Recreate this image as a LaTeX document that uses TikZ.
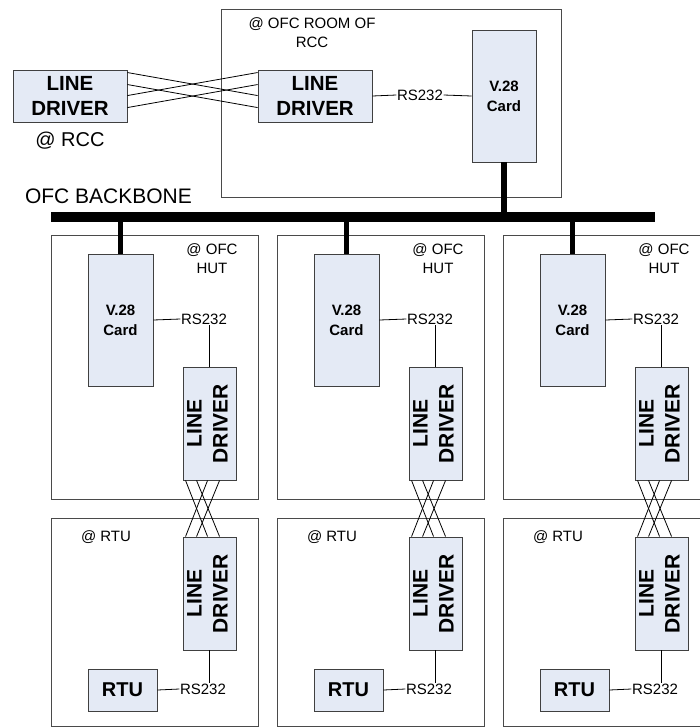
\documentclass[tikz,border=0pt]{standalone}
\usepackage{fontspec}
\setmainfont{Liberation Sans}
\usepackage{graphicx}
\usetikzlibrary{positioning}
\definecolor{unitfill}{HTML}{E4EAF5}
\definecolor{unitline}{HTML}{404040}
\definecolor{arealine}{HTML}{4A4A4A}
\tikzset{
  areabox/.style={draw=arealine,line width=0.9pt},
  unitbox/.style={draw=unitline,fill=unitfill,line width=0.9pt,inner sep=0pt,align=center},
  small/.style={inner sep=0.5pt,align=center,font=\fontsize{15}{19.5}\selectfont},
  wire/.style={line width=0.8pt},
  bus/.style={line width=5.5pt},
}
\newcommand{\vdriver}{\rotatebox{90}{\begin{tabular}{@{}c@{}}LINE\\DRIVER\end{tabular}}}

\begin{document}
\begin{tikzpicture}[x=1pt,y=-1pt]
\clip (0,0) rectangle (700,728);
\fill[white] (0,0) rectangle (700,728);
% room at the RCC
\draw[areabox] (221,9) rectangle (561,197);
\node[small] (roomlbl) at (312,32.5) {@ OFC ROOM OF\\RCC};
\node[unitbox,minimum width=114pt,minimum height=52pt,font=\bfseries\fontsize{20.5}{24.5}\selectfont] (rccld) at (70,96) {LINE\\DRIVER};
\node[font=\fontsize{20}{24}\selectfont] (rcclbl) at (70,141) {@ RCC};
\node[unitbox,minimum width=114pt,minimum height=52pt,font=\bfseries\fontsize{20.5}{24.5}\selectfont] (roomld) at (315,96) {LINE\\DRIVER};
\node[unitbox,minimum width=64pt,minimum height=132pt,font=\bfseries\fontsize{15}{20}\selectfont] (roomcard) at (504,96) {V.28\\Card};
\node[small] (roomrs) at (420,95) {RS232};
\draw[wire] (roomld.east) -- (roomrs.west);
\draw[wire] (roomrs.east) -- (roomcard.west);
\foreach \a/\b in {3/26,15/38,26/3,38/15}
  \draw[wire] ([yshift=-\a pt]rccld.north east) -- ([yshift=-\b pt]roomld.north west);
% backbone
\node[font=\fontsize{21}{25}\selectfont] (bblbl) at (108.5,196) {OFC BACKBONE};
\coordinate (bbw) at (51,217);
\coordinate (bbe) at (655,217);
\draw[line width=10pt] (bbw) -- (bbe);
\draw[bus] (roomcard.south) -- (roomcard.south |- bbw);
% huts and RTUs
\foreach \n/\dx in {a/0pt,b/226pt,c/452pt}{
\begin{scope}[xshift=\dx]
\draw[areabox] (51,235) rectangle (258,499);
\draw[areabox] (51,518) rectangle (258,726);
\node[small] (hut\n) at (212,258.5) {@ OFC\\HUT};
\node[small] (rtulbl\n) at (106,537) {@ RTU};
\node[unitbox,minimum width=65pt,minimum height=132pt,font=\bfseries\fontsize{15}{20}\selectfont] (card\n) at (120.5,320) {V.28\\Card};
\node[small] (rs\n) at (204,319) {RS232};
\node[unitbox,minimum width=53pt,minimum height=113pt,font=\bfseries\fontsize{21}{26}\selectfont] (ld\n) at (209.5,423.5) {\vdriver};
\node[unitbox,minimum width=53pt,minimum height=113pt,font=\bfseries\fontsize{21}{26}\selectfont] (rld\n) at (209.5,593.5) {\vdriver};
\node[unitbox,minimum width=69pt,minimum height=42pt,font=\bfseries\fontsize{20}{24}\selectfont] (rtu\n) at (122.5,690) {RTU};
\node[small] (rrs\n) at (203,689) {RS232};
\draw[bus] (card\n.north) -- (card\n.north |- bbw);
\draw[wire] (card\n.east) -- (rs\n.west);
\draw[wire] (ld\n.north) -- (ld\n.north |- rs\n.south);
\draw[wire] (rld\n.south) -- (rld\n.south |- rrs\n.north);
\draw[wire] (rtu\n.east) -- (rrs\n.west);
\foreach \a/\b in {3/25,14/37,25/3,37/14}
  \draw[wire] ([xshift=\a pt]ld\n.south west) -- ([xshift=\b pt]rld\n.north west);
\end{scope}
}
\end{tikzpicture}
\end{document}
